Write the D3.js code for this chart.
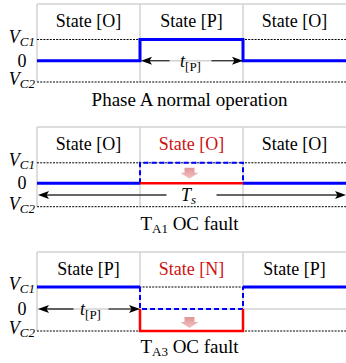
<!DOCTYPE html>
<html>
<head>
<meta charset="utf-8">
<script src="https://cdn.jsdelivr.net/npm/d3@7"></script>
<style>
  html, body { margin: 0; padding: 0; background: #fff; }
  svg { display: block; }
</style>
</head>
<body>
<svg id="chart" width="346" height="363"></svg>
<script>
// Switching intervals within one period (three equal sub-intervals)
const intervals = [0, 1, 2];
// Voltage levels: +1 = V_C1, 0 = zero, -1 = V_C2
const levelValues = [1, 0, -1];

// Phase A normal operation
const statesNormal = ["O", "P", "O"];
const levelsNormal = [0, 1, 0];

// T_A1 open-circuit fault
const statesA1 = ["O", "O", "O"];
const expectedA1 = [0, 1, 0];
const actualA1 = [0, 0, 0];

// T_A3 open-circuit fault
const statesA3 = ["P", "N", "P"];
const expectedA3 = [1, 0, 1];
const actualA3 = [1, -1, 1];

const faultInterval = 1;

const FONT = "Liberation Serif";
const svg = d3.select("#chart");
const x = d3.scaleLinear().domain([0, 3]).range([37, 346]);

const BLUE = "#0000ff", RED = "#ff0000", TEXT_RED = "#cc1111", GRID = "#d2d2d2";

const panels = [
  { top: 4, y: [82, 60.7, 39.5], title: "normal", states: statesNormal, expected: levelsNormal, actual: null, arrow: "tp-mid", titleY: 106 },
  { top: 127, y: [206.7, 183.3, 162.8], title: "A1", states: statesA1, expected: expectedA1, actual: actualA1, arrow: "ts", titleY: 230 },
  { top: 252, y: [331, 309, 287], title: "A3", states: statesA3, expected: expectedA3, actual: actualA3, arrow: "tp-left", titleY: 352.5 }
];

function addText(g) {
  return g.append("text").attr("font-family", FONT);
}

function arrowHead(g, xTip, yv, dir) {
  const L = 11, W = 4;
  g.append("path")
    .attr("d", `M${xTip},${yv} L${xTip - dir * L},${yv - W} L${xTip - dir * L + dir * 2.5},${yv} L${xTip - dir * L},${yv + W} Z`)
    .attr("fill", "#000");
}

function dimArrow(g, x0, x1, yv, gap0, gap1) {
  const col = "#333";
  g.append("line").attr("x1", x0 + 3).attr("x2", gap0).attr("y1", yv).attr("y2", yv)
    .attr("stroke", col).attr("stroke-width", 1.3);
  g.append("line").attr("x1", gap1).attr("x2", x1 - 3).attr("y1", yv).attr("y2", yv)
    .attr("stroke", col).attr("stroke-width", 1.3);
  arrowHead(g, x0, yv, -1);
  arrowHead(g, x1, yv, 1);
}

function faultArrow(g, cx, yTop) {
  g.append("path")
    .attr("d", `M${cx - 5},${yTop} L${cx + 5},${yTop} L${cx + 5},${yTop + 5} L${cx + 9},${yTop + 5} L${cx},${yTop + 11} L${cx - 9},${yTop + 5} L${cx - 5},${yTop + 5} Z`)
    .attr("fill", "url(#pinkGrad)");
}

const defs = svg.append("defs");
const grad = defs.append("linearGradient").attr("id", "pinkGrad").attr("x1", 0).attr("x2", 0).attr("y1", 0).attr("y2", 1);
grad.append("stop").attr("offset", "0%").attr("stop-color", "#e09494");
grad.append("stop").attr("offset", "100%").attr("stop-color", "#f2c2c2");

panels.forEach((p, pi) => {
  const g = svg.append("g");
  const y = d3.scaleLinear().domain([-1, 0, 1]).range(p.y);

  // grid frame
  g.append("line").attr("x1", x(0)).attr("x2", x(3)).attr("y1", p.top).attr("y2", p.top)
    .attr("stroke", GRID).attr("stroke-width", 1.5);
  g.append("line").attr("x1", x(0)).attr("x2", x(3)).attr("y1", y(0)).attr("y2", y(0))
    .attr("stroke", GRID).attr("stroke-width", 1.5);
  [0, 1, 2].forEach(i => {
    g.append("line").attr("x1", x(i)).attr("x2", x(i)).attr("y1", p.top).attr("y2", y(-1))
      .attr("stroke", GRID).attr("stroke-width", 1.5);
  });

  // dotted reference levels V_C1 and V_C2
  [1, -1].forEach(v => {
    g.append("line").attr("x1", x(0)).attr("x2", x(3)).attr("y1", y(v)).attr("y2", y(v))
      .attr("stroke", "#000").attr("stroke-width", 1).attr("stroke-dasharray", "2,1.2");
  });

  // level labels
  levelValues.forEach(v => {
    const yy = y(v);
    if (v === 0) {
      addText(g).attr("x", 22).attr("y", yy + 6).attr("text-anchor", "middle")
        .attr("font-size", 18).text("0");
    } else {
      const t = addText(g).attr("x", 35).attr("y", yy + 3).attr("text-anchor", "end")
        .attr("font-size", 18).attr("font-style", "italic");
      t.append("tspan").text("V");
      t.append("tspan").attr("font-size", 13).attr("dy", 3).text(v === 1 ? "C1" : "C2");
    }
  });

  // state labels
  p.states.forEach((s, i) => {
    const faulty = p.actual && i === faultInterval;
    addText(g).attr("x", x(i + 0.5)).attr("y", p.top + 23).attr("text-anchor", "middle")
      .attr("font-size", 18).attr("fill", faulty ? TEXT_RED : "#000")
      .text(`State [${s}]`);
  });

  const step = d3.line().x(d => x(d[0])).y(d => y(d[1])).curve(d3.curveStepAfter);

  if (!p.actual) {
    const pts = intervals.map(i => [i, p.expected[i]]);
    pts.push([3, p.expected[2]]);
    g.append("path").attr("d", step(pts)).attr("fill", "none")
      .attr("stroke", BLUE).attr("stroke-width", 3);
  } else {
    const f = faultInterval;
    // expected waveform during the faulty interval (dashed)
    const dashPts = [[f, p.expected[f - 1]], [f, p.expected[f]], [f + 1, p.expected[f]], [f + 1, p.expected[f + 1]]];
    g.append("path").attr("d", d3.line().x(d => x(d[0])).y(d => y(d[1]))(dashPts))
      .attr("fill", "none").attr("stroke", BLUE).attr("stroke-width", 2).attr("stroke-dasharray", "5,3");
    // actual waveform during the faulty interval
    const redPts = [[f, 0], [f, p.actual[f]], [f + 1, p.actual[f]], [f + 1, 0]];
    g.append("path").attr("d", d3.line().x(d => x(d[0])).y(d => y(d[1]))(redPts))
      .attr("fill", "none").attr("stroke", RED).attr("stroke-width", 2.5);
    // healthy intervals
    [0, 2].forEach(i => {
      g.append("line").attr("x1", x(i)).attr("x2", x(i + 1))
        .attr("y1", y(p.actual[i])).attr("y2", y(p.actual[i]))
        .attr("stroke", BLUE).attr("stroke-width", 3);
    });
    faultArrow(g, x(f + 0.5) - 2, pi === 1 ? y(1) + 5 : y(0) + 8);
  }

  // time annotations
  if (p.arrow === "tp-mid") {
    const yv = y(0);
    dimArrow(g, x(1) + 1, x(2), yv, x(1.5) - 22, x(1.5) + 20);
    const t = addText(g).attr("x", x(1.5) - 1).attr("y", yv + 6).attr("text-anchor", "middle").attr("font-size", 18);
    t.append("tspan").attr("font-style", "italic").text("t");
    t.append("tspan").attr("font-size", 13).attr("dy", 4).text("[P]");
  } else if (p.arrow === "ts") {
    const yv = (y(0) + y(-1)) / 2;
    dimArrow(g, x(0) + 1, x(3), yv, x(1.5) - 25, x(1.5) + 25);
    const t = addText(g).attr("x", x(1.5) - 3).attr("y", yv + 6).attr("text-anchor", "middle")
      .attr("font-size", 18).attr("font-style", "italic");
    t.append("tspan").text("T");
    t.append("tspan").attr("font-size", 13).attr("dy", 3).text("s");
  } else if (p.arrow === "tp-left") {
    const yv = y(0);
    dimArrow(g, x(0) + 1, x(1), yv, x(0.5) - 15, x(0.5) + 20);
    const t = addText(g).attr("x", x(0.5) + 2).attr("y", yv + 6).attr("text-anchor", "middle").attr("font-size", 18);
    t.append("tspan").attr("font-style", "italic").text("t");
    t.append("tspan").attr("font-size", 13).attr("dy", 4).text("[P]");
  }

  // panel caption
  const cap = addText(g).attr("x", x(1.5) - 2).attr("y", p.titleY).attr("text-anchor", "middle").attr("font-size", 19);
  if (p.title === "normal") {
    cap.text("Phase A normal operation");
  } else {
    cap.append("tspan").text("T");
    cap.append("tspan").attr("font-size", 13).attr("dy", 3).text(p.title);
    cap.append("tspan").attr("dy", -3).text(" OC fault");
  }
});
</script>
</body>
</html>
